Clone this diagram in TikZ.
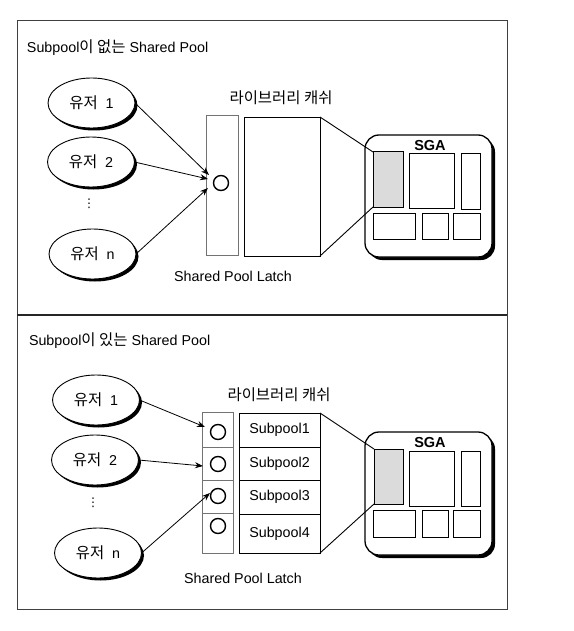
\documentclass[tikz,border=0pt]{standalone}
\usepackage{fontspec}
\setmainfont{Liberation Sans}
\newfontfamily\kr{Noto Sans CJK KR}[Scale=1.08]
\newfontfamily\dvs{DejaVu Sans}
\usetikzlibrary{shapes.geometric,arrows.meta,shadows}
\begin{document}
\begin{tikzpicture}[x=1pt,y=-1pt,
  every node/.style={inner sep=0pt, outer sep=0pt},
  txt/.style={font=\fontsize{14.3}{17}\selectfont},
  user/.style={ellipse, draw, line width=0.9pt, fill=white, minimum width=87pt, minimum height=50pt,
     general shadow={fill=black, shadow xshift=2.5pt, shadow yshift=-2.5pt},
     font=\fontsize{14.3}{17}\selectfont},
  latchcol/.style={draw=black!55, line width=0.6pt},
  latchcirc/.style={circle, draw, line width=1.4pt, minimum size=15pt},
  cache/.style={draw, line width=0.9pt},
  subcell/.style={draw, line width=0.9pt, minimum width=81pt, font=\fontsize{14.3}{17}\selectfont},
  sga/.style={draw, rounded corners=14pt, line width=1.3pt, fill=white,
     general shadow={fill=black, shadow xshift=3pt, shadow yshift=-3pt}},
  sgabox/.style={draw, line width=1pt},
  shadedbox/.style={sgabox, fill=gray!28},
  arr/.style={-{Stealth[length=8pt,width=6pt]}, line width=0.8pt},
  link/.style={line width=0.9pt},
  vd/.style={font=\dvs\fontsize{12}{14}\selectfont}
]
\useasboundingbox (0,0) rectangle (573,631);
\fill[white] (0,0) rectangle (573,631);
% frame
\draw[line width=0.9pt, black!75] (17,20) rectangle (507,609);
\draw[line width=1.1pt, black!85] (17,315) -- (507,315);

%================ top panel
\node[txt, anchor=west] (t1) at (27,48) {Subpool{\kr 이 없는} Shared Pool};
\node[user] (a1) at (91.5,103) {{\kr 유저}\ \ 1};
\node[user] (a2) at (91,162) {{\kr 유저}\ \ 2};
\node[user] (an) at (92.5,254) {{\kr 유저}\ \ n};
\node[vd] (ad) at (89,204) {⋮};

\node[latchcol, minimum width=32pt, minimum height=140pt] (l1) at (222,185) {};
\node[latchcirc] (c1) at (221,183) {};
\node[cache, minimum width=76pt, minimum height=139pt] (k1) at (282,186.5) {};
\node[txt] (kl1) at (281,98) {\kr 라이브러리 캐쉬};
\node[txt] (ll1) at (233,276) {Shared Pool Latch};

\coordinate (e11) at (209,175);
\coordinate (e12) at (208,179);
\coordinate (e13) at (208,188);
\draw[arr] (a1.east) -- (e11);
\draw[arr] (a2.east) -- (e12);
\draw[arr] (an.east) -- (e13);

\node[sga, minimum width=127pt, minimum height=122pt] (s1) at (428.5,196) {};
\node[font=\fontsize{14.5}{16}\selectfont\bfseries] (sl1) at (430,146) {SGA};
\node[shadedbox, minimum width=30pt, minimum height=55pt] (h1) at (388,179.5) {};
\node[sgabox, minimum width=45pt, minimum height=54pt] (b12) at (431.5,181) {};
\node[sgabox, minimum width=19pt, minimum height=55pt] (b13) at (470.5,181.5) {};
\node[sgabox, minimum width=42pt, minimum height=26pt] (b14) at (394,226) {};
\node[sgabox, minimum width=26pt, minimum height=26pt] (b15) at (435,226) {};
\node[sgabox, minimum width=27pt, minimum height=26pt] (b16) at (466.5,226) {};
\draw[link] (k1.north east) -- (h1.north west);
\draw[link] (k1.south east) -- (h1.south west);

%================ bottom panel
\node[txt, anchor=west] (t2) at (29,341) {Subpool{\kr 이 있는} Shared Pool};
\node[user] (u1) at (96,400) {{\kr 유저}\ \ 1};
\node[user] (u2) at (95,460) {{\kr 유저}\ \ 2};
\node[user] (un) at (98,553) {{\kr 유저}\ \ n};
\node[vd] (ud) at (93,503) {⋮};

\node[latchcol, minimum width=31pt, minimum height=35pt] (m1) at (217.5,429.5) {};
\node[latchcol, minimum width=31pt, minimum height=33pt] (m2) at (217.5,463.5) {};
\node[latchcol, minimum width=31pt, minimum height=33pt] (m3) at (217.5,496.5) {};
\node[latchcol, minimum width=31pt, minimum height=40pt] (m4) at (217.5,533) {};
\node[latchcirc] (d1) at (218,432) {};
\node[latchcirc] (d2) at (218,464) {};
\node[latchcirc] (d3) at (218,496) {};
\node[latchcirc] (d4) at (218,526) {};

\node[subcell, minimum height=34pt] (p1) at (279.5,430) {Subpool1};
\node[subcell, minimum height=33pt] (p2) at (279.5,463.5) {Subpool2};
\node[subcell, minimum height=34pt] (p3) at (279.5,497) {Subpool3};
\node[subcell, minimum height=39pt] (p4) at (279.5,533.5) {Subpool4};
\node[txt] (kl2) at (279,395) {\kr 라이브러리 캐쉬};
\node[txt] (ll2) at (243,578) {Shared Pool Latch};

\coordinate (f1) at (205,427);
\coordinate (f2) at (203,466);
\coordinate (f3) at (210,493);
\draw[arr] (u1.east) -- (f1);
\draw[arr] (u2.east) -- (f2);
\draw[arr] (un.east) -- (f3);

\node[sga, minimum width=127pt, minimum height=123pt] (s2) at (428.5,493.5) {};
\node[font=\fontsize{14.5}{16}\selectfont\bfseries] (sl2) at (430,443) {SGA};
\node[shadedbox, minimum width=29pt, minimum height=55pt] (h2) at (388.5,476.5) {};
\node[sgabox, minimum width=45pt, minimum height=55pt] (b22) at (431.5,478.5) {};
\node[sgabox, minimum width=19pt, minimum height=55pt] (b23) at (470.5,478.5) {};
\node[sgabox, minimum width=42pt, minimum height=27pt] (b24) at (394,523.5) {};
\node[sgabox, minimum width=26pt, minimum height=27pt] (b25) at (435,523.5) {};
\node[sgabox, minimum width=27pt, minimum height=27pt] (b26) at (466.5,523.5) {};
\draw[link] (p1.north east) -- (h2.north west);
\draw[link] (p4.south east) -- (h2.south west);
\end{tikzpicture}
\end{document}
